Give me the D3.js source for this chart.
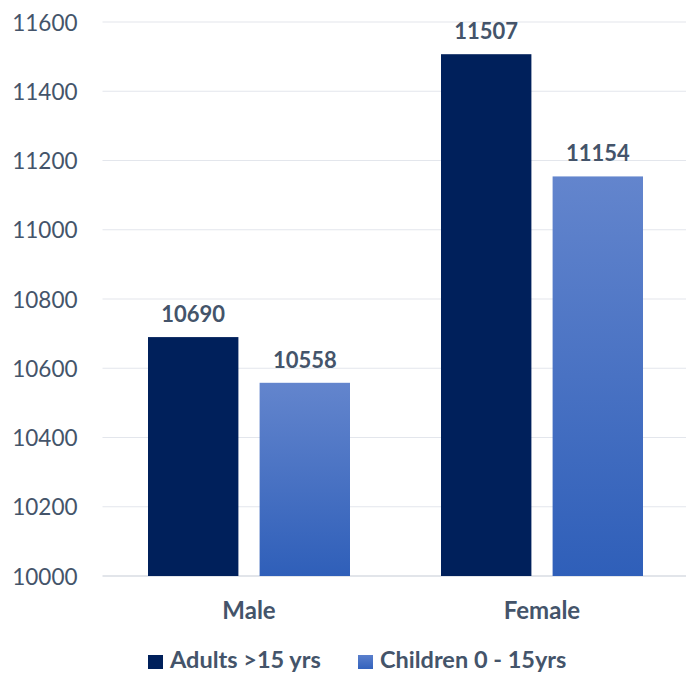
<!DOCTYPE html>
<html>
<head>
<meta charset="utf-8">
<script src="https://cdn.jsdelivr.net/npm/d3@7"></script>
<style>
  html, body { margin: 0; padding: 0; background: #ffffff; }
  svg { display: block; }
</style>
</head>
<body>
<svg id="chart" width="686" height="674"></svg>
<script>
// Population by sex and age group
const categories = ["Male", "Female"];
const seriesNames = ["Adults >15 yrs", "Children 0 - 15yrs"];
const adults = [10690, 11507];
const children = [10558, 11154];
const yTicks = [10000, 10200, 10400, 10600, 10800, 11000, 11200, 11400, 11600];

const textColor = "#44546a";
const font = "Lato, 'Open Sans', sans-serif";

const svg = d3.select("#chart");
const margin = { left: 102.5, right: -2.5, top: 22, bottom: 98 };
const width = 686 - margin.left - margin.right;
const height = 674 - margin.top - margin.bottom;

const defs = svg.append("defs");
const grad = defs.append("linearGradient")
  .attr("id", "childGrad")
  .attr("x1", 0).attr("y1", 0).attr("x2", 0).attr("y2", 1);
grad.append("stop").attr("offset", "0%").attr("stop-color", "#6385cd");
grad.append("stop").attr("offset", "100%").attr("stop-color", "#2f5fb9");

const legendGrad = defs.append("linearGradient")
  .attr("id", "legendGrad")
  .attr("x1", 0).attr("y1", 0).attr("x2", 0).attr("y2", 1);
legendGrad.append("stop").attr("offset", "0%").attr("stop-color", "#5a7fcc");
legendGrad.append("stop").attr("offset", "100%").attr("stop-color", "#3463bd");

const g = svg.append("g").attr("transform", `translate(${margin.left},${margin.top})`);

const x0 = d3.scaleBand().domain(categories).range([0, width]).paddingInner(0).paddingOuter(0);
const x1 = d3.scaleBand().domain(seriesNames).range([45.5, x0.bandwidth() - 45.5]).paddingInner(0.19);
const y = d3.scaleLinear().domain([10000, 11600]).range([height, 0]);

// gridlines
g.append("g")
  .selectAll("line")
  .data(yTicks)
  .join("line")
  .attr("x1", 0).attr("x2", width)
  .attr("y1", d => y(d)).attr("y2", d => y(d))
  .attr("stroke", d => d === 10000 ? "#d9dde3" : "#e3e6ec")
  .attr("stroke-width", d => d === 10000 ? 1.5 : 1.2);

// y axis labels
const yAxis = d3.axisLeft(y).tickValues(yTicks).tickSize(0).tickPadding(0).tickFormat(d3.format("d"));
const yg = g.append("g").attr("transform", "translate(-25,0)").call(yAxis);
yg.select(".domain").remove();
yg.selectAll("text")
  .attr("fill", textColor)
  .style("font-family", font)
  .style("font-size", "22.5px")
  .attr("dy", "0.36em");

// bars
const rows = categories.map((c, i) => ({ cat: c, vals: [adults[i], children[i]] }));
const groups = g.selectAll(".grp").data(rows).join("g")
  .attr("transform", d => `translate(${x0(d.cat)},0)`);

groups.selectAll("rect")
  .data(d => d.vals.map((v, j) => ({ key: seriesNames[j], v, j })))
  .join("rect")
  .attr("x", d => x1(d.key))
  .attr("width", x1.bandwidth())
  .attr("y", d => y(d.v))
  .attr("height", d => y(10000) - y(d.v))
  .attr("fill", d => d.j === 0 ? "#00205b" : "url(#childGrad)");

groups.selectAll("text.val")
  .data(d => d.vals.map((v, j) => ({ key: seriesNames[j], v, j })))
  .join("text")
  .attr("class", "val")
  .attr("x", d => x1(d.key) + x1.bandwidth() / 2)
  .attr("y", d => y(d.v) - 15)
  .attr("text-anchor", "middle")
  .attr("fill", textColor)
  .style("font-family", font)
  .style("font-weight", "bold")
  .style("font-size", "22px")
  .text(d => d.v);

// category labels
g.selectAll("text.cat")
  .data(categories)
  .join("text")
  .attr("class", "cat")
  .attr("x", d => x0(d) + x0.bandwidth() / 2)
  .attr("y", height + 43)
  .attr("text-anchor", "middle")
  .attr("fill", textColor)
  .style("font-family", font)
  .style("font-weight", "bold")
  .style("font-size", "24px")
  .text(d => d);

// legend
const legend = svg.append("g").attr("transform", "translate(0,668)");
const legendItems = [
  { name: seriesNames[0], fill: "#00205b", x: 148 },
  { name: seriesNames[1], fill: "url(#legendGrad)", x: 358 }
];
const li = legend.selectAll("g").data(legendItems).join("g")
  .attr("transform", d => `translate(${d.x},0)`);
li.append("rect").attr("x", 0).attr("y", -13).attr("width", 15).attr("height", 14).attr("fill", d => d.fill);
li.append("text")
  .attr("x", 22).attr("y", 0)
  .attr("fill", textColor)
  .style("font-family", font)
  .style("font-weight", "bold")
  .style("font-size", "23.5px")
  .text(d => d.name);
</script>
</body>
</html>
